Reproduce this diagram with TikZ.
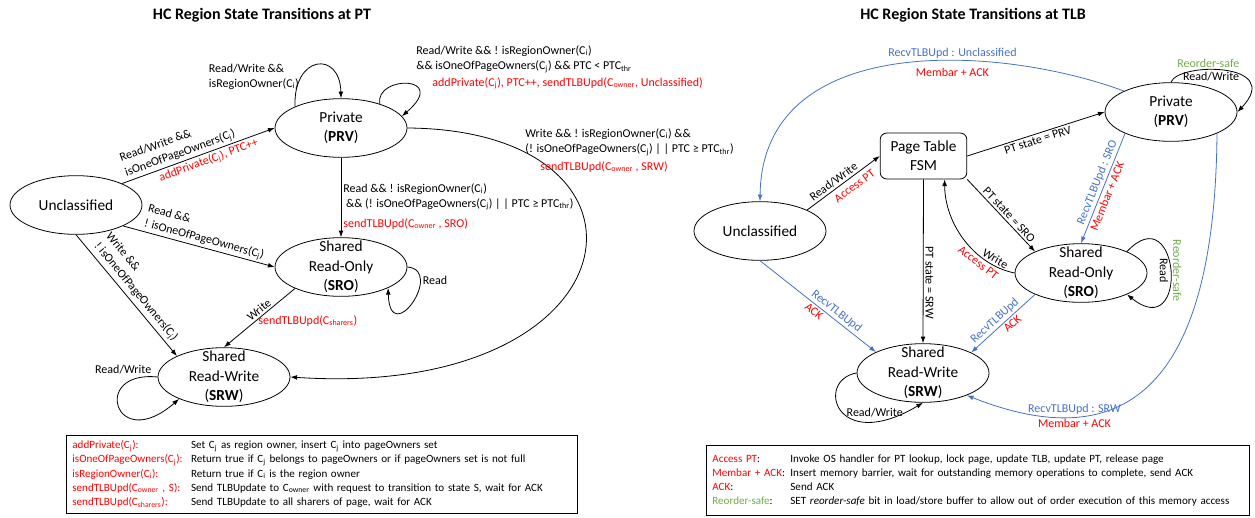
\documentclass[tikz,border=0pt]{standalone}
\usepackage{fontspec}
\setmainfont{Carlito}
\usetikzlibrary{shapes.geometric, arrows.meta}

\definecolor{actred}{RGB}{255,0,0}
\definecolor{tlbblue}{RGB}{68,114,196}
\definecolor{safegreen}{RGB}{112,173,71}

\newcommand{\Ci}{C\textsubscript{i}}
\newcommand{\Cj}{C\textsubscript{j}}
\newcommand{\Cown}{C\textsubscript{owner}}
\newcommand{\Cshr}{C\textsubscript{sharers}}
\newcommand{\PTCthr}{PTC\textsubscript{thr}}

\begin{document}
\begin{tikzpicture}[x=0.75pt, y=-0.75pt, line width=0.6pt, >={Latex[length=5pt,width=3.6pt]},
		state/.style={draw, ellipse, minimum width=99pt, minimum height=44pt, inner sep=0pt},
		stxt/.style={align=center, font=\fontsize{11.5}{14.5}\selectfont},
		fsmbox/.style={draw, rounded corners=5pt, minimum width=65pt, minimum height=34.5pt, align=center, font=\fontsize{11.5}{14.5}\selectfont},
		lab/.style={font=\fontsize{9}{11.5}\selectfont, align=left, inner sep=1.5pt},
		act/.style={lab, text=actred},
		updlab/.style={lab, text=tlbblue},
		safe/.style={lab, text=safegreen},
		upd/.style={->, draw=tlbblue},
		keybox/.style={draw, anchor=north west, inner xsep=4.5pt, align=left, font=\fontsize{8.3}{10.7}\selectfont},
		title/.style={font=\fontsize{12}{14}\selectfont\bfseries}]
	\useasboundingbox (0,0) rectangle (1255,517);

	% at PT
	\node[title] (pttitle) at (262,15) {HC Region State Transitions at PT};
	\node[state, label={[stxt]center:Unclassified}] (unc) at (76,205) {};
	\node[state, label={[stxt]center:{Private\\(\textbf{PRV})}}] (prv) at (341,128) {};
	\node[state, label={[stxt]center:{Shared\\Read-Only\\(\textbf{SRO})}}] (sro) at (341,267) {};
	\node[state, label={[stxt]center:{Shared\\Read-Write\\(\textbf{SRW})}}] (srw) at (224,377) {};

	\draw[->] (unc.25) -- node[lab, sloped, above, pos=0.4] {Read/Write \&\&\\isOneOfPageOwners(\Cj)} node[act, sloped, below, pos=0.55] {addPrivate(\Cj), PTC++} (prv.west);
	\draw[->] (unc.-24) -- node[lab, sloped, above, pos=0.52] {Read \&\&\\! isOneOfPageOwners(\Cj)} (sro.west);
	\draw[->] (unc.south) -- node[lab, sloped, above=1pt, pos=0.52] {Write \&\&\\! isOneOfPageOwners(\Cj)} (srw.156);

	\draw[->] (prv.155) .. controls (293,55) and (340,50) .. node[lab, pos=0.25, left] {Read/Write \&\&\\isRegionOwner(\Ci)} (prv.north);
	\draw[->] (prv.32) .. controls (375,75) and (450,75) .. (prv.11);
	\node[lab, anchor=south west] (prvloop) at (414,75) {Read/Write \&\& ! isRegionOwner(\Ci)\\\&\& isOneOfPageOwners(\Cj) \&\& PTC < \PTCthr};
	\node[act, anchor=west] (prvloopact) at (430,83) {addPrivate(\Cj), PTC++, sendTLBUpd(\Cown, Unclassified)};

	\draw[->] (prv.south) -- node[lab, pos=0.49, right] {Read \&\& ! isRegionOwner(\Ci)\\\hspace{2pt}\&\& (! isOneOfPageOwners(\Cj) | | PTC ≥ \PTCthr)} node[act, pos=0.83, right] {sendTLBUpd(\Cown\ , SRO)} (sro.north);
	\draw[->] (prv.east) .. controls (680,130) and (640,400) .. (srw.east);
	\node[lab, anchor=west] (prvsrw) at (523,142) {Write \&\& ! isRegionOwner(\Ci) \&\&\\(! isOneOfPageOwners(\Cj) | | PTC ≥ \PTCthr)};
	\node[act, anchor=west] (prvsrwact) at (538,167) {sendTLBUpd(\Cown\ , SRW)};

	\draw[->] (sro.-155) -- node[lab, sloped, above, pos=0.45] {Write} node[act, right, pos=0.55] {sendTLBUpd(\Cshr)} (srw.north);
	\draw[->] (sro.east) .. controls (445,270) and (390,350) .. node[lab, pos=0.25, right] {Read} (sro.-24);
	\draw[->] (srw.west) .. controls (90,370) and (115,455) .. node[lab, pos=0.02, above left] {Read/Write} (srw.-154);

	\node[keybox, text width=374pt, inner ysep=2.5pt] (ptkey) at (66,435) {\noindent\begin{tabular}{@{}p{89pt}@{}l@{}}
		\textcolor{actred}{addPrivate(\Cj):} & Set \Cj\ as region owner, insert \Cj\ into pageOwners set\\
		\textcolor{actred}{isOneOfPageOwners(\Cj):} & Return true if \Cj\ belongs to pageOwners or if pageOwners set is not full\\
		\textcolor{actred}{isRegionOwner(\Ci):} & Return true if \Ci\ is the region owner\\
		\textcolor{actred}{sendTLBUpd(\Cown\ , S):} & Send TLBUpdate to \Cown\ with request to transition to state S, wait for ACK\\
		\textcolor{actred}{sendTLBUpd(\Cshr):} & Send TLBUpdate to all sharers of page, wait for ACK
	\end{tabular}};

	% at TLB
	\node[title] (tlbtitle) at (973,15) {HC Region State Transitions at TLB};
	\node[state, label={[stxt]center:Unclassified}] (tunc) at (760,231) {};
	\node[fsmbox] (fsm) at (923.5,156) {Page Table\\FSM};
	\node[state, label={[stxt]center:{Private\\(\textbf{PRV})}}] (tprv) at (1171,112) {};
	\node[state, label={[stxt]center:{Shared\\Read-Only\\(\textbf{SRO})}}] (tsro) at (1081,273) {};
	\node[state, label={[stxt]center:{Shared\\Read-Write\\(\textbf{SRW})}}] (tsrw) at (923,373) {};

	\draw[->] (tunc.24) -- node[lab, sloped, above, pos=0.42] {Read/Write} node[act, sloped, below=2pt, pos=0.58] {Access PT} (fsm.west);
	\draw[->] (fsm.east) -- node[lab, sloped, below] {PT state = PRV} (tprv.west);
	\draw[->] (fsm.south east) -- node[lab, sloped, above, pos=0.55] {PT state = SRO} (tsro.155);
	\draw[->] (tsro.west) .. controls (975,265) and (945,225) .. node[lab, sloped, above, pos=0.2] {Write} node[act, sloped, below, pos=0.3] {Access PT} (fsm.-48);
	\draw[->] (fsm.south) -- node[lab, pos=0.63, rotate=-90, anchor=south] {PT state = SRW} (tsrw.north);

	\draw[upd] (tunc.south) -- node[updlab, sloped, above, pos=0.62] {RecvTLBUpd} node[act, sloped, below, pos=0.5] {ACK} (tsrw.156);
	\draw[upd] (tsro.-155) -- node[updlab, sloped, above, pos=0.55] {RecvTLBUpd} node[act, sloped, below, pos=0.42] {ACK} (tsrw.23);
	\draw[upd] (tprv.-155) -- node[updlab, sloped, above, pos=0.47] {RecvTLBUpd : SRO} node[act, sloped, below, pos=0.55] {Membar + ACK} (tsro.north);
	\draw[upd] (tprv.156) .. controls (1000,45) and (762,30) .. node[updlab, pos=0.38, above=0pt] {RecvTLBUpd : Unclassified} node[act, pos=0.38, below=4pt] {Membar + ACK} (tunc.north);
	\draw[upd] (tprv.-25) .. controls (1215,380) and (1130,460) .. node[updlab, pos=0.75, above] {RecvTLBUpd : SRW} node[act, pos=0.75, below] {Membar + ACK} (tsrw.-27);

	\draw[->] (tprv.north) .. controls (1178,62) and (1285,62) .. node[lab, pos=0.4, below=0pt] {Read/Write} node[safe, pos=0.38, above] {Reorder-safe} (tprv.east);
	\draw[->] (tsro.25) .. controls (1180,195) and (1190,345) .. node[lab, pos=0.5, rotate=-90, anchor=north] {Read} node[safe, pos=0.5, rotate=-90, anchor=south] {Reorder-safe} (tsro.-25);
	\draw[->] (tsrw.west) .. controls (815,380) and (835,455) .. node[lab, pos=0.78, above=1pt] {Read/Write} (tsrw.south);

	\node[keybox, text width=398pt, inner ysep=5pt] (tlbkey) at (706,445) {\noindent\begin{tabular}{@{}p{58.5pt}@{}l@{}}
		\textcolor{actred}{Access PT}: & Invoke OS handler for PT lookup, lock page, update TLB, update PT, release page\\
		\textcolor{actred}{Membar + ACK}: & Insert memory barrier, wait for outstanding memory operations to complete, send ACK\\
		\textcolor{actred}{ACK}: & Send ACK\\
		\textcolor{safegreen}{Reorder-safe}: & SET \textit{reorder-safe} bit in load/store buffer to allow out of order execution of this memory access
	\end{tabular}};
\end{tikzpicture}
\end{document}
